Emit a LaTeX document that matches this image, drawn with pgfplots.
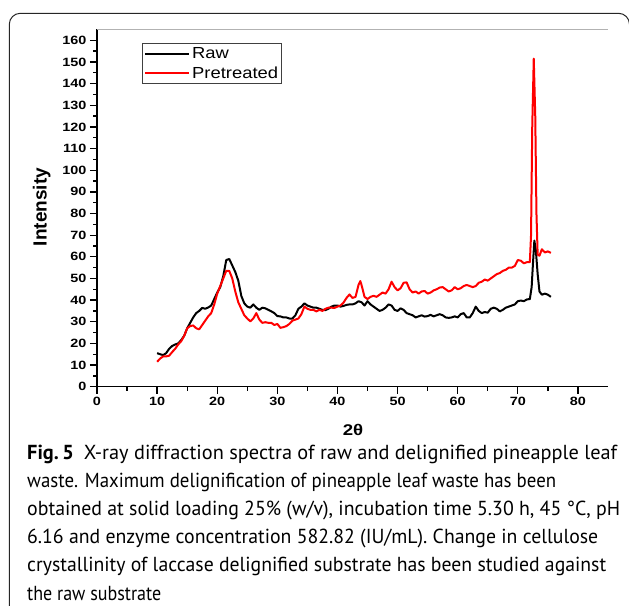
\documentclass[border=0pt]{standalone}
\usepackage{fontspec}
\usepackage{graphicx}
\usepackage{pgfplots}
\usepackage{pgfplotstable}
\pgfplotsset{compat=1.18}
\setmainfont{PT Sans}
\newfontfamily\tickfont[FakeStretch=1.2]{Liberation Sans}
\newfontfamily\legfont[FakeStretch=1.15]{Liberation Sans}
\newfontfamily\labfont{Liberation Sans}

% XRD, raw leaf waste
\pgfplotstableread{
x y
10 15.5
10.5 15
11 14.6
11.5 15.5
12 17.5
12.5 18.8
13 19.5
13.5 20
14 21.5
14.5 23.5
15 27
15.5 29.5
16 32
16.5 34
17 35
17.5 36.4
18 36
18.5 36.6
19 37.5
19.5 40.5
20 43.5
20.5 46
21 51
21.5 58.5
22 59
22.5 56
23 53
23.5 49
24 42
24.5 38.5
25 37
25.5 36.5
26 38
26.5 36.5
27 35.5
27.5 36.5
28 36.2
28.5 35.5
29 34.8
29.5 34
30 32.6
30.5 32.5
31 32
31.5 32
32 31.5
32.5 31.5
33 33
33.5 36
34 37
34.5 38.5
35 37.5
35.5 37
36 36.5
36.5 36.5
37 36
37.5 35.5
38 35.4
38.5 36
39 37
39.5 37.5
40 37.5
40.5 37
41 37.3
41.5 37.8
42 38
42.5 38
43 38.5
43.5 39.5
44 39
44.5 37.5
45 39.5
45.5 38
46 37
46.5 36
47 35
47.5 35.5
48 36.5
48.5 38
49 37.5
49.5 35.5
50 35
50.5 36.2
51 35.5
51.5 34
52 33.5
52.5 33
53 32
53.5 32.5
54 33
54.5 32.4
55 32.6
55.5 33.2
56 32.5
56.5 33
57 33.5
57.5 33
58 32
58.5 31.8
59 32
59.5 32.5
60 32
60.5 33.5
61 34
61.5 32
62 32
62.5 34
63 37
63.5 35
64 34
64.5 34.5
65 34.2
65.5 36
66 36.5
66.5 36
67 34.8
67.5 35.5
68 36.5
68.5 37
69 37.5
69.5 38
70 39.5
70.5 39.8
71 39.5
71.5 40.3
72 40.5
72.3 46
72.5 56
72.75 67.5
73 63
73.3 52
73.6 44
74 42.5
74.5 43
75 42.5
75.5 41.5
}\rawdata

% XRD, pretreated (laccase delignified)
\pgfplotstableread{
x y
10 11.5
10.5 13
11 14
11.5 14
12 14.3
12.5 16
13 17.5
13.5 19.5
14 21
14.5 23.5
15 27
15.5 28
16 28.3
16.5 27
17 26.5
17.5 28.5
18 30.5
18.5 32.5
19 34
19.5 38
20 43
20.5 46.5
21 50
21.5 53.5
22 53.5
22.5 50
23 44
23.5 39
24 36
24.5 33
25 31.5
25.5 30.2
26 31.5
26.5 34
27 31
27.5 29.5
28 29.8
28.5 29.5
29 29.5
29.5 28.5
30 29
30.5 27.2
31 27.5
31.5 28
32 29
32.5 30.5
33 31
33.5 31.5
34 33.5
34.5 37
35 36
35.5 35.5
36 35.5
36.5 34.8
37 35.5
37.5 35
38 36
38.5 36.5
39 36.5
39.5 36.4
40 37
40.5 37.5
41 38.8
41.5 41
42 42.6
42.5 41
43 41.5
43.5 47
43.8 48.8
44 47
44.5 41.5
45 40.5
45.5 41.5
46 42
46.5 41.5
47 42.5
47.5 43.5
48 43
48.5 45
49 48.5
49.5 46
50 44.5
50.5 45.5
51 48
51.5 48.2
52 45
52.5 43.5
53 44
53.5 43
54 44
54.5 44.2
55 43
55.5 43.5
56 44.5
56.5 45
57 45.8
57.5 46
58 45
58.5 44
59 44.5
59.5 46
60 45
60.5 45.5
61 46.5
61.5 47
62 46.5
62.5 46
63 46.5
63.5 48
64 48.5
64.5 49.5
65 49
65.5 50
66 51
66.5 52
67 52.5
67.5 53.5
68 54
68.5 55
69 55
69.5 55.8
70 58.5
70.5 58.2
71 57
71.5 57.5
72 57.5
72.2 70
72.4 120
72.65 151.5
72.9 125
73.1 80
73.3 61
73.6 60.5
74 63.5
74.5 62
75 62.5
75.5 61.8
}\pretdata

\begin{document}
\begin{tikzpicture}
\useasboundingbox (0pt,0pt) rectangle (629pt,-605pt);
\draw[line width=1pt, black!85, rounded corners=11pt] (9.3pt,-13.3pt) rectangle (629.5pt,-650pt);

\begin{axis}[
  at={(97pt,-386.7pt)}, anchor=south west,
  scale only axis, width=511pt, height=357.2pt,
  xmin=0, xmax=85, ymin=0, ymax=165,
  axis x line*=bottom, axis y line*=left,
  axis line style={-, line width=1.4pt},
  xtick={0,10,...,80}, ytick={0,10,...,160},
  minor x tick num=1, minor y tick num=1,
  tick align=outside,
  major tick length=7pt, minor tick length=4pt,
  every tick/.style={black, line width=1.3pt},
  ticklabel style={font=\tickfont\bfseries\fontsize{12}{12}\selectfont},
  /pgf/number format/assume math mode=true,
  xlabel={2θ},
  ylabel={Intensity},
  x label style={at={(axis description cs:0.501,-0.121)}, anchor=center,
    font=\tickfont\bfseries\fontsize{15.5}{15.5}\selectfont},
  y label style={at={(axis description cs:-0.108,0.503)}, anchor=center,
    font=\labfont\bfseries\fontsize{19}{19}\selectfont},
  legend style={at={(0.0886,0.961)}, anchor=north west,
    draw=black!75, line width=0.8pt, inner sep=1.5pt,
    font=\legfont\fontsize{16}{16}\selectfont, row sep=3pt},
  legend cell align=left,
  legend image code/.code={\draw[#1, line width=2pt] (0pt,0pt) -- (44pt,0pt);},
]
\draw[black!30, line width=0.8pt] (rel axis cs:0,1) -- (rel axis cs:1,1) -- (rel axis cs:1,0);
\addplot[black, line width=2pt, line join=round] table {\rawdata};
\addlegendentry{Raw}
\addplot[red, line width=2pt, line join=round] table {\pretdata};
\addlegendentry{Pretreated}
\end{axis}

% caption, one line per node; the value is the line's width in the reference
\foreach \t/\w [count=\i from 0] in {
  {\textbf{Fig.\,5}\hspace{0.5em}X-ray diffraction spectra of raw and delignified pineapple leaf}/590pt,
  {waste. Maximum delignification of pineapple leaf waste has been}/529pt,
  {obtained at solid loading 25\% (w/v), incubation time 5.30 h, 45 °C, pH}/593pt,
  {6.16 and enzyme concentration 582.82 (IU/mL). Change in cellulose}/571pt,
  {crystallinity of laccase delignified substrate has been studied against}/579pt,
  {the raw substrate}/134pt}
  \node[anchor=base west, inner sep=0pt, font=\fontsize{20.3}{20.3}\selectfont]
    at (27pt,{-459pt-\i*28.2pt}) {\resizebox{\w}{\height}{\t}};
\end{tikzpicture}
\end{document}
